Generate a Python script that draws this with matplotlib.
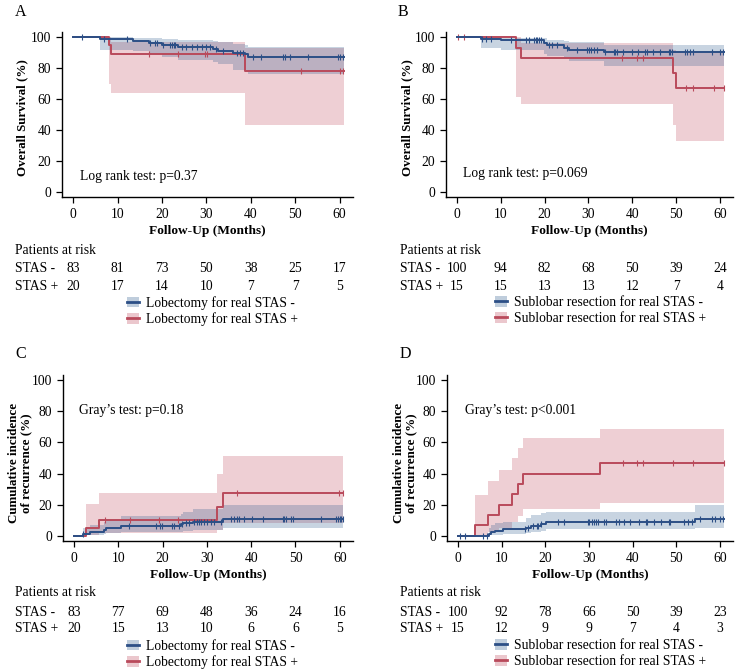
import numpy as np
import matplotlib
matplotlib.use("Agg")
import matplotlib.pyplot as plt
from matplotlib.patches import Patch
from matplotlib.lines import Line2D
from matplotlib.transforms import blended_transform_factory

plt.rcParams['font.family'] = ['Liberation Serif', 'DejaVu Serif']
FS = 9.8
plt.rcParams['font.size'] = FS

W, H = 736, 670
BLUE = '#2c4f86'
RED = '#b94a5b'
BLUE_F = '#2c5a8e'
RED_F = '#c0485a'

# ---------------- DATA ----------------
# Panel A: Overall survival, lobectomy
A_blue_t = [0, 6, 13.5, 17, 20, 23.7, 31.5, 32.7, 36, 38.6, 39.4]
A_blue_s = [100, 98.8, 97.6, 96.3, 95.1, 93.9, 92.7, 91.5, 90.1, 89.0, 87.6]
A_blue_lo = [100, 92, 91, 89, 87, 85.6, 84, 82.6, 78.7, 77.5, 76]
A_blue_hi = [100, 100, 99.8, 99.3, 98.8, 98.2, 97.5, 96.8, 96, 95.2, 93.5]
A_blue_end = 60.9
A_blue_cens = [1.9, 7.0, 12.1, 17.3, 18.4, 18.8, 20.3, 21.8, 22.2, 22.6, 22.9, 24.4, 25.5,
               26.7, 27.8, 28.9, 30.0, 30.8, 32.1, 33.8, 36.8, 37.5, 38.3, 40.5, 42.4,
               47.3, 47.7, 48.8, 52.9, 59.6, 60.0, 60.8]
A_red_t = [0, 8.1, 8.5, 38.6]
A_red_s = [100, 95, 89.5, 78.3]
A_red_lo = [100, 70, 64, 43]
A_red_hi = [100, 100, 97.2, 93]
A_red_end = 60.9
A_red_cens = [17, 23.7, 29.7, 30.1, 51.4, 60.0, 60.7]

# Panel B: Overall survival, sublobar resection
B_blue_t = [0, 5.5, 10, 19.8, 20.6, 24.4, 25.5, 33.5]
B_blue_s = [100, 99, 98.1, 96.5, 94.9, 93.3, 92, 90.5]
B_blue_lo = [100, 93, 92, 89.5, 88, 86.5, 85, 81.5]
B_blue_hi = [100, 100, 99.8, 99.3, 98.5, 97.8, 97, 95]
B_blue_end = 61.0
B_blue_cens = [5.8, 6.6, 7.7, 12.4, 15.7, 16.4, 17.6, 18.0, 18.3, 18.7, 19.1, 21.0, 21.7,
               22.9, 25.2, 27.4, 29.7, 30.1, 30.5, 31.2, 32.0, 33.9, 35.8, 36.1, 36.5,
               38.0, 39.9, 41.4, 43.0, 43.3, 44.8, 46.4, 48.3, 48.6, 49.0, 52.0, 52.4,
               53.2, 53.9, 58.1, 60.0, 60.8]
B_red_t = [0, 13.4, 14.7, 49.2, 50]
B_red_s = [100, 93.3, 86.7, 77, 67.5]
B_red_lo = [100, 61.5, 56.5, 43.5, 33]
B_red_hi = [100, 100, 96.3, 92, 90]
B_red_end = 61.0
B_red_cens = [0.3, 1.7, 37.7, 41.1, 42.4, 52.3, 53.8, 58.7, 60.9]

# Panel C: Cumulative incidence of recurrence, lobectomy
C_blue_t = [0, 2.1, 3.5, 6.8, 7.3, 10.6, 24.1, 24.7, 26.9, 33.7]
C_blue_s = [0, 1.2, 2.4, 3.6, 4.8, 6.0, 7.3, 8.0, 9.0, 11.0]
C_blue_lo = [0, 0.2, 0.5, 1, 1.5, 2, 2.5, 3, 3.5, 5]
C_blue_hi = [0, 5, 7, 8.5, 10, 12.9, 14, 15, 17, 20]
C_blue_end = 60.7
C_blue_cens = [2.1, 12.3, 18.6, 19.5, 19.9, 22.2, 22.5, 23.7, 24.4, 25.2, 25.9, 27.1, 27.8,
               28.2, 28.6, 29.3, 30.1, 30.9, 31.6, 33.1, 35.4, 36.2, 36.9, 37.3, 38.4,
               40.3, 42.6, 47.1, 47.5, 47.9, 49.0, 49.4, 55.8, 59.2, 59.6, 60.0, 60.4, 60.7]
C_red_t = [0, 2.7, 5.7, 32.2, 33.7]
C_red_s = [0, 5, 10, 18.3, 27.2]
C_red_lo = [0, 0.5, 1.5, 3.5, 8]
C_red_hi = [0, 20.3, 27.2, 40, 51]
C_red_end = 60.7
C_red_cens = [7.0, 12.6, 19.1, 23.4, 36.8, 59.8, 60.7]

# Panel D: Cumulative incidence of recurrence, sublobar resection
D_blue_t = [0, 7.1, 7.6, 8.5, 10.4, 15.7, 16.8, 19.1, 20.2, 54.3]
D_blue_s = [0, 1, 2, 3, 4.1, 5.2, 6.4, 7.5, 8.7, 11]
D_blue_lo = [0, 0.1, 0.3, 0.6, 1, 1.5, 2.2, 3, 4, 5]
D_blue_hi = [0, 5, 6.5, 8, 9, 11.5, 13, 14.5, 15.5, 20]
D_blue_end = 60.9
D_blue_cens = [0.5, 1.7, 5.8, 6.6, 15.3, 16.1, 17.2, 18.0, 18.3, 19.1, 22.9, 24.4, 29.7,
               30.1, 30.8, 31.2, 31.6, 32.0, 33.5, 33.9, 36.1, 36.9, 38.0, 39.5, 41.4,
               43.0, 43.3, 44.8, 46.4, 48.3, 48.6, 51.7, 52.8, 53.6, 55.5, 58.1, 58.9,
               60.0, 60.8]
D_red_t = [0, 3.8, 7.0, 9.4, 12.3, 13.8, 14.9, 32.6]
D_red_s = [0, 6.7, 13.3, 20, 26.7, 33.3, 40, 46.7]
D_red_lo = [0, 0.2, 2, 5, 8.5, 12.5, 17, 21]
D_red_hi = [0, 26, 35, 42.5, 50, 56.5, 63, 69]
D_red_end = 60.9
D_red_cens = [37.7, 41.1, 42.4, 49.2, 53.8, 60.9]

# Risk tables
risk_times = [0, 10, 20, 30, 40, 50, 60]
A_risk_neg = [83, 81, 73, 50, 38, 25, 17]
A_risk_pos = [20, 17, 14, 10, 7, 7, 5]
B_risk_neg = [100, 94, 82, 68, 50, 39, 24]
B_risk_pos = [15, 15, 13, 13, 12, 7, 4]
C_risk_neg = [83, 77, 69, 48, 36, 24, 16]
C_risk_pos = [20, 15, 13, 10, 6, 6, 5]
D_risk_neg = [100, 92, 78, 66, 50, 39, 23]
D_risk_pos = [15, 12, 9, 9, 7, 4, 3]

row_labels = ['STAS -', 'STAS +']
lob_labels = ['Lobectomy for real STAS -', 'Lobectomy for real STAS +']
sub_labels = ['Sublobar resection for real STAS -', 'Sublobar resection for real STAS +']

# ---------------- FIGURE ----------------
fig = plt.figure(figsize=(W / 100, H / 100), dpi=100)


def fx(px):
    return px / W


def fy(py):
    return 1 - py / H


def draw_curve(ax, t, s, lo, hi, end, cens, lc, fc):
    t = np.asarray(t, float)
    s = np.asarray(s, float)
    te = np.append(t, end)
    se = np.append(s, s[-1])
    loe = np.append(lo, lo[-1])
    hie = np.append(hi, hi[-1])
    ax.fill_between(te, loe, hie, step='post', color=fc, alpha=0.26, lw=0)
    ax.step(te, se, where='post', color=lc, lw=1.4)
    c = np.asarray(cens, float)
    idx = np.searchsorted(t, c, side='right') - 1
    ax.plot(c, s[idx], ls='none', marker='|', ms=5, mew=0.8, color=lc)


def make_panel(rect, letter, letter_pos, curves, ylabel, ylabel_xy, note, note_xy,
               risk_neg, risk_pos, table_px, table_x, labels, leg_px):
    ax = fig.add_axes(rect)
    for cv in curves:
        draw_curve(ax, *cv)
    ax.set_xlim(-2.5, 63)
    ax.set_ylim(-3.5, 103.5)
    ax.set_xticks(risk_times)
    ax.set_yticks([0, 20, 40, 60, 80, 100])
    for sp in ['top', 'right']:
        ax.spines[sp].set_visible(False)
    for sp in ['left', 'bottom']:
        ax.spines[sp].set_linewidth(1.0)
    ax.tick_params(direction='out', length=4, width=0.9, labelsize=FS, pad=4)
    ax.set_xlabel('Follow-Up (Months)', fontweight='bold', fontsize=9.6, labelpad=3)
    ax.set_ylabel(ylabel, fontweight='bold', fontsize=9.4, linespacing=1.05)
    ax.yaxis.set_label_coords(*ylabel_xy)
    ax.text(note_xy[0], note_xy[1], note, fontsize=FS, va='center', ha='left')
    fig.text(fx(letter_pos[0]), fy(letter_pos[1]), letter, fontsize=11.5, va='center', ha='left')
    # risk table
    tr = blended_transform_factory(ax.transData, fig.transFigure)
    fig.text(fx(table_x), fy(table_px[0]), 'Patients at risk', fontsize=FS, va='center', ha='left')
    for lab, vals, py in zip(row_labels, [risk_neg, risk_pos], table_px[1:]):
        fig.text(fx(table_x), fy(py), lab, fontsize=FS, va='center', ha='left')
        for tt, v in zip(risk_times, vals):
            ax.text(tt, fy(py), str(v), transform=tr, fontsize=FS, va='center', ha='center')
    handles = [(Patch(facecolor=BLUE_F, alpha=0.3, edgecolor='none'), Line2D([], [], color=BLUE, lw=2)),
               (Patch(facecolor=RED_F, alpha=0.3, edgecolor='none'), Line2D([], [], color=RED, lw=2))]
    fig.legend(handles, labels, loc='upper left', bbox_to_anchor=(fx(leg_px[0]), fy(leg_px[1])),
               frameon=False, fontsize=FS, borderpad=0, borderaxespad=0, handlelength=0.85,
               handleheight=0.85, handletextpad=0.55, labelspacing=0.2)
    return ax


rA = [fx(62), fy(197), fx(353) - fx(62), fy(32) - fy(197)]
rB = [fx(446), fy(197), fx(733) - fx(446), fy(32) - fy(197)]
rC = [fx(63), fy(541), fx(353) - fx(63), fy(375) - fy(541)]
rD = [fx(447), fy(541), fx(733) - fx(447), fy(375) - fy(541)]

make_panel(rA, 'A', (15, 12),
           [(A_red_t, A_red_s, A_red_lo, A_red_hi, A_red_end, A_red_cens, RED, RED_F),
            (A_blue_t, A_blue_s, A_blue_lo, A_blue_hi, A_blue_end, A_blue_cens, BLUE, BLUE_F)],
           'Overall Survival (%)', (-0.115, 0.48), 'Log rank test: p=0.37', (1.6, 9.7),
           A_risk_neg, A_risk_pos, (251, 269, 286), 15, lob_labels, (127, 296))

make_panel(rB, 'B', (398, 12),
           [(B_red_t, B_red_s, B_red_lo, B_red_hi, B_red_end, B_red_cens, RED, RED_F),
            (B_blue_t, B_blue_s, B_blue_lo, B_blue_hi, B_blue_end, B_blue_cens, BLUE, BLUE_F)],
           'Overall Survival (%)', (-0.115, 0.48), 'Log rank test: p=0.069', (1.4, 12),
           B_risk_neg, B_risk_pos, (251, 269, 286), 400, sub_labels, (495, 296))

make_panel(rC, 'C', (15, 354),
           [(C_red_t, C_red_s, C_red_lo, C_red_hi, C_red_end, C_red_cens, RED, RED_F),
            (C_blue_t, C_blue_s, C_blue_lo, C_blue_hi, C_blue_end, C_blue_cens, BLUE, BLUE_F)],
           'Cumulative incidence\nof recurrence (%)', (-0.105, 0.47), 'Gray\u2019s test: p=0.18', (1.1, 80.6),
           C_risk_neg, C_risk_pos, (593, 612, 629), 15, lob_labels, (127, 639))

make_panel(rD, 'D', (400, 354),
           [(D_red_t, D_red_s, D_red_lo, D_red_hi, D_red_end, D_red_cens, RED, RED_F),
            (D_blue_t, D_blue_s, D_blue_lo, D_blue_hi, D_blue_end, D_blue_cens, BLUE, BLUE_F)],
           'Cumulative incidence\nof recurrence (%)', (-0.105, 0.47), 'Gray\u2019s test: p<0.001', (1.6, 80.6),
           D_risk_neg, D_risk_pos, (593, 612, 629), 400, sub_labels, (495, 639))

fig.savefig('out.png', dpi=100)
